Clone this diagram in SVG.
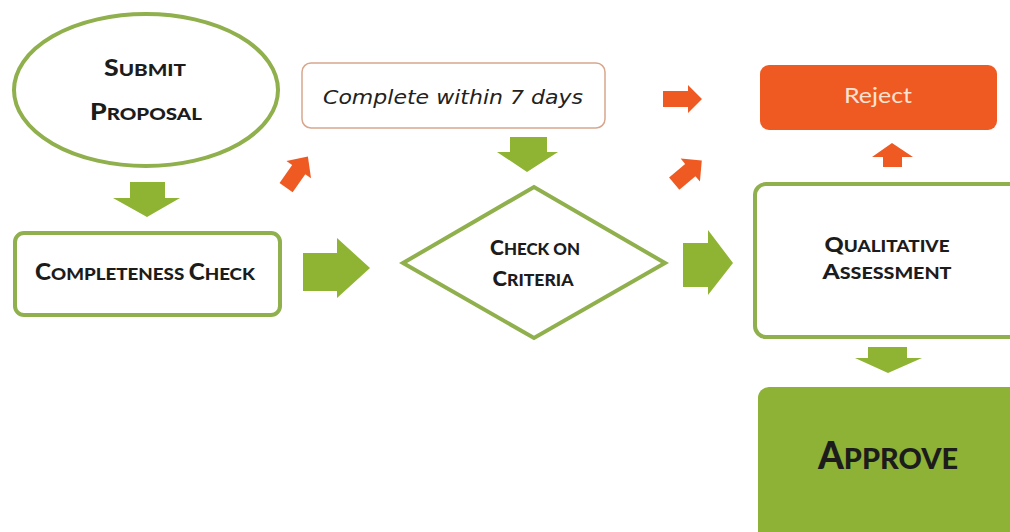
<svg xmlns="http://www.w3.org/2000/svg" width="1010" height="532" viewBox="0 0 1010 532">
<style>
.g{fill:none;stroke:#8fb04c;stroke-width:4}
.lbl{font-family:Lato,"Liberation Sans",sans-serif;font-weight:900;fill:#1c1c1c;text-anchor:middle}
.ga{fill:#8fb433}
.oa{fill:#ef5a23}
</style>
<rect width="1010" height="532" fill="#ffffff"/>
<g id="connectors">
<polygon class="ga" points="130,182 165,182 165,198 180,198 147,217 113,198 130,198"/>
<polygon class="ga" points="303,253 337,253 337,238 370,268 337,298 337,291 303,291"/>
<polygon class="ga" points="510,137 547,137 547,152 558,152 527,172 497,152 510,152"/>
<polygon class="ga" points="683,243 708,243 708,230 733,263 708,295 708,287 683,287"/>
<polygon class="ga" points="868,347 907,347 907,358 922,358 888,373 855,358 868,358"/>
<polygon class="oa" points="663,91 688,91 688,85 702,99 688,113 688,107 663,107"/>
<polygon class="oa" points="883,167 902,167 902,157 913,157 892,143 872,157 883,157"/>
<polygon class="oa" transform="translate(297,172) rotate(-55)" points="-19,-8 3,-8 3,-15 19,0 3,15 3,8 -19,8"/>
<polygon class="oa" transform="translate(688,172) rotate(-40)" points="-18,-8 3,-8 3,-15 18,0 3,15 3,8 -18,8"/>
</g>
<g id="submit">
<ellipse class="g" cx="146" cy="90" rx="132" ry="76"/>
<text class="lbl" x="145" y="76" textLength="82" lengthAdjust="spacingAndGlyphs"><tspan font-size="22">S</tspan><tspan font-size="17">UBMIT</tspan></text>
<text class="lbl" x="146" y="120" textLength="112" lengthAdjust="spacingAndGlyphs"><tspan font-size="22">P</tspan><tspan font-size="17">ROPOSAL</tspan></text>
</g>
<g id="completeness">
<rect class="g" x="15" y="233" width="265" height="82" rx="9"/>
<text class="lbl" x="145" y="280" textLength="220" lengthAdjust="spacingAndGlyphs"><tspan font-size="22">C</tspan><tspan font-size="17">OMPLETENESS </tspan><tspan font-size="22">C</tspan><tspan font-size="17">HECK</tspan></text>
</g>
<g id="within7days">
<rect x="302" y="63" width="303" height="65" rx="9" fill="#ffffff" stroke="#d8a68c" stroke-width="1.5"/>
<text x="453" y="104" font-family="DejaVu Sans,Verdana,sans-serif" font-style="italic" font-size="19" fill="#222" text-anchor="middle" textLength="260" lengthAdjust="spacingAndGlyphs">Complete within 7 days</text>
</g>
<g id="criteria">
<polygon class="g" points="403,263 534,187 665,263 534,338"/>
<text class="lbl" x="535" y="255" textLength="90" lengthAdjust="spacingAndGlyphs"><tspan font-size="20">C</tspan><tspan font-size="16">HECK ON</tspan></text>
<text class="lbl" x="533" y="286" textLength="81" lengthAdjust="spacingAndGlyphs"><tspan font-size="20">C</tspan><tspan font-size="16">RITERIA</tspan></text>
</g>
<g id="reject">
<rect x="760" y="65" width="237" height="65" rx="9" fill="#ef5a23"/>
<text x="878" y="103" font-family="Lato,'Liberation Sans',sans-serif" font-size="22" fill="#fbe2d2" text-anchor="middle" textLength="68" lengthAdjust="spacingAndGlyphs">Reject</text>
</g>
<g id="qualitative">
<rect class="g" x="755" y="184" width="270" height="153" rx="11"/>
<text class="lbl" x="887" y="252" textLength="125" lengthAdjust="spacingAndGlyphs"><tspan font-size="20">Q</tspan><tspan font-size="16">UALITATIVE</tspan></text>
<text class="lbl" x="887" y="279" textLength="129" lengthAdjust="spacingAndGlyphs"><tspan font-size="20">A</tspan><tspan font-size="16">SSESSMENT</tspan></text>
</g>
<g id="approve">
<rect x="758" y="387" width="270" height="160" rx="11" fill="#8db236"/>
<text class="lbl" x="888" y="469" textLength="140" lengthAdjust="spacingAndGlyphs"><tspan font-size="37">A</tspan><tspan font-size="29">PPROVE</tspan></text>
</g>
</svg>
